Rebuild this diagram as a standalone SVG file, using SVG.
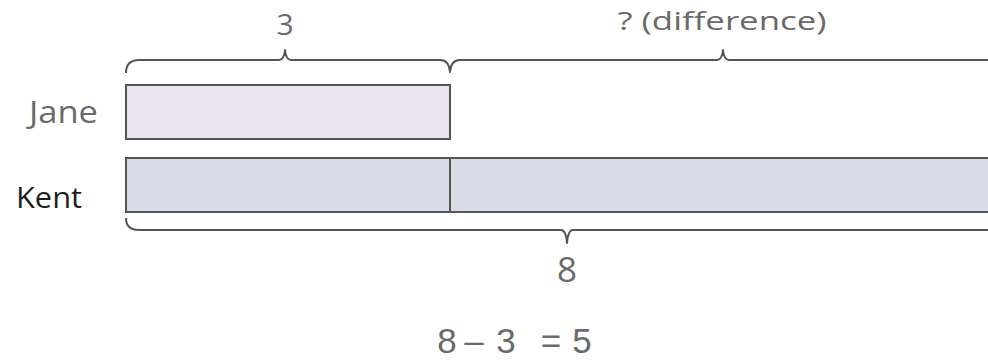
<svg xmlns="http://www.w3.org/2000/svg" width="988" height="361" viewBox="0 0 988 361">
<style>
.lbl{font-family:"Open Sans","Noto Sans","Liberation Sans",sans-serif;}
.eq{font-family:"Liberation Sans",Arial,sans-serif;}
.g{fill:#6a6a6a;}
.k{fill:#1e1e1e;}
.bar{stroke:#555;stroke-width:2;}
.brace{fill:none;stroke:#555;stroke-width:2;stroke-linejoin:round;}
</style>
<rect width="988" height="361" fill="#fff"/>
<g id="jane">
<text class="lbl g" x="29" y="123" font-size="31" textLength="69" lengthAdjust="spacingAndGlyphs">Jane</text>
<rect class="bar" x="126" y="85" width="324" height="54" fill="#ebe3ef"/>
</g>
<g id="kent">
<text class="lbl k" x="16" y="208" font-size="30" textLength="66" lengthAdjust="spacingAndGlyphs">Kent</text>
<rect class="bar" x="126" y="158" width="870" height="54" fill="#d8dee7"/>
<line class="bar" x1="450" y1="158" x2="450" y2="212"/>
</g>
<g id="connectors">
<path class="brace" d="M126,73 Q126,60 139,60 L279,60 Q284,60 285,50 Q286,60 291,60 L440,60 Q449,60 450,72 Q451,60 460,60 L717,60 Q722,60 723,50 Q724,60 729,60 L990,60"/>
<path class="brace" d="M126,218 Q126,230 139,230 L561,230 Q566,230 567,243 Q568,230 573,230 L990,230"/>
</g>
<g id="labels">
<text class="lbl g" x="285" y="35" font-size="30" text-anchor="middle">3</text>
<text class="lbl g" x="722" y="30" font-size="26" text-anchor="middle" textLength="209" lengthAdjust="spacingAndGlyphs">? (difference)</text>
<text class="lbl g" x="567" y="282" font-size="35" text-anchor="middle">8</text>
<text class="eq g" x="447 474 506 551 582" y="353" font-size="35" text-anchor="middle">8–3=5</text>
</g>
</svg>
